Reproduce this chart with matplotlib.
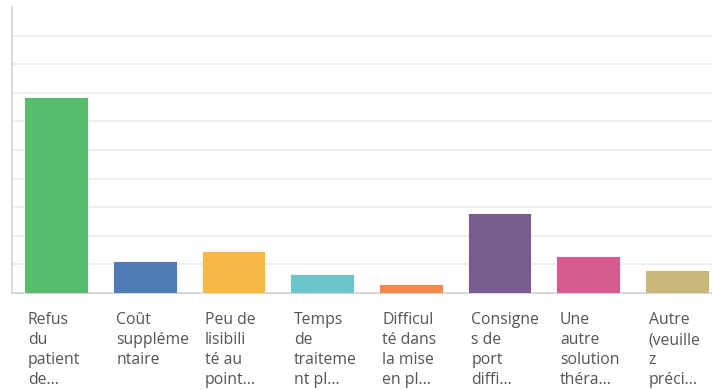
import matplotlib.pyplot as plt
from matplotlib.transforms import blended_transform_factory

labels = [
    "Refus\ndu\npatient\nde...",
    "Coût\nsuppléme\nntaire",
    "Peu de\nlisibili\nté au\npoint...",
    "Temps\nde\ntraiteme\nnt pl...",
    "Difficul\nté dans\nla mise\nen pl...",
    "Consigne\ns de\nport\ndiffi...",
    "Une\nautre\nsolution\nthéra...",
    "Autre\n(veuille\nz\npréci...",
]
values = [68.5, 11.1, 14.6, 6.6, 3.1, 28.1, 13.0, 8.1]
colors = ["#57bc6c", "#507cb6", "#f7b945", "#6cc5cc",
          "#ef8a4b", "#7a5d8f", "#d45c8e", "#c9b87a"]

plt.rcParams['font.family'] = ['Open Sans', 'DejaVu Sans']

fig = plt.figure(figsize=(7.12, 3.9), dpi=100)
# plot area runs slightly past the right edge of the canvas
ax = fig.add_axes([11.7 / 712, 97 / 390, 709.6 / 712, 286 / 390])

x = range(len(values))
ax.bar(x, values, width=0.72, color=colors, edgecolor="white", linewidth=0.6, zorder=3)

ax.set_xlim(-0.5, len(values) - 0.5)
ax.set_ylim(0, 100)
ax.set_yticks(range(10, 100, 10))
ax.yaxis.grid(True, color="#ebebeb", linewidth=1.2, zorder=0)
ax.tick_params(left=False, bottom=False, labelleft=False, labelbottom=False)

for side in ("top", "right"):
    ax.spines[side].set_visible(False)
ax.spines["left"].set_color("#d6d6d6")
ax.spines["bottom"].set_color("#d0d0d0")
ax.spines["left"].set_linewidth(1.2)
ax.spines["bottom"].set_linewidth(1.2)

# wrapped category names, left-aligned under each bar
trans = blended_transform_factory(ax.transData, ax.transAxes)
for i, lab in enumerate(labels):
    ax.text(i - 0.32, -0.068, lab, transform=trans, ha="left", va="top",
            fontsize=11.3, color="#555555", linespacing=1.33)

fig.savefig("out.png", dpi=100)
